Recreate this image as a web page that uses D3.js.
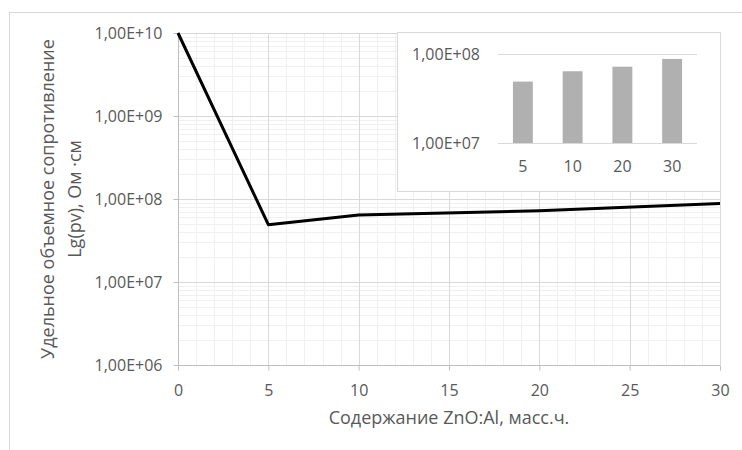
<!DOCTYPE html>
<html>
<head>
<meta charset="utf-8">
<script src="https://cdn.jsdelivr.net/npm/d3@7"></script>
<style>
  html, body { margin: 0; padding: 0; background: #fff; }
  text { font-family: "Open Sans", sans-serif; fill: #595959; }
</style>
</head>
<body>
<svg id="chart" width="742" height="450"></svg>
<script>
// ZnO:Al content (mass parts) and volume resistivity, Ohm·cm
const content = [0, 5, 10, 20, 30];
const resistivity = [1e10, 4.9e7, 6.4e7, 7.2e7, 8.8e7];

// Inset: filled samples only
const insetCategories = ["5", "10", "20", "30"];
const insetValues = [4.9e7, 6.4e7, 7.2e7, 8.8e7];

const xTicks = [0, 5, 10, 15, 20, 25, 30];
const yTicks = [1e6, 1e7, 1e8, 1e9, 1e10];
const insetYTicks = [1e7, 1e8];

const xTitle = "Содержание ZnO:Al, масс.ч.";
const yTitleLines = ["Удельное объемное сопротивление", "Lg(pv), Ом ·см"];

const fmtE = v => {
  const exp = Math.round(Math.log10(v));
  const mant = v / Math.pow(10, exp);
  return mant.toFixed(2).replace(".", ",") + "E+" + String(exp).padStart(2, "0");
};

const svg = d3.select("#chart");

// chart frame
svg.append("rect")
  .attr("x", 9.5).attr("y", 12.5)
  .attr("width", 760).attr("height", 460)
  .attr("fill", "none").attr("stroke", "#d9d9d9").attr("stroke-width", 1);

const plot = { left: 178, right: 720, top: 33, bottom: 365 };

const x = d3.scaleLinear().domain([0, 30]).range([plot.left, plot.right]);
const y = d3.scaleLog().domain([1e6, 1e10]).range([plot.bottom, plot.top]);

const g = svg.append("g");

// minor grid
const minorX = d3.range(0, 31).filter(v => v % 5 !== 0);
g.selectAll(".mx").data(minorX).enter().append("line")
  .attr("x1", d => Math.round(x(d)) + 0.5).attr("x2", d => Math.round(x(d)) + 0.5)
  .attr("y1", plot.top).attr("y2", plot.bottom)
  .attr("stroke", "#f0f0f0").attr("stroke-width", 1);

const minorY = [];
for (let e = 6; e < 10; e++) for (let m = 2; m <= 9; m++) minorY.push(m * Math.pow(10, e));
g.selectAll(".my").data(minorY).enter().append("line")
  .attr("x1", plot.left).attr("x2", plot.right)
  .attr("y1", d => Math.round(y(d)) + 0.5).attr("y2", d => Math.round(y(d)) + 0.5)
  .attr("stroke", "#f0f0f0").attr("stroke-width", 1);

// major grid
g.selectAll(".MX").data(xTicks.slice(1)).enter().append("line")
  .attr("x1", d => Math.round(x(d)) + 0.5).attr("x2", d => Math.round(x(d)) + 0.5)
  .attr("y1", plot.top).attr("y2", plot.bottom)
  .attr("stroke", "#d9d9d9").attr("stroke-width", 1);
g.selectAll(".MY").data(yTicks.slice(1)).enter().append("line")
  .attr("x1", plot.left).attr("x2", plot.right)
  .attr("y1", d => Math.round(y(d)) + 0.5).attr("y2", d => Math.round(y(d)) + 0.5)
  .attr("stroke", "#d9d9d9").attr("stroke-width", 1);

// axes
const xAxis = d3.axisBottom(x).tickValues(xTicks).tickSize(5).tickPadding(14).tickFormat(d3.format("d"));
const yAxis = d3.axisLeft(y).tickValues(yTicks).tickSize(5).tickPadding(11).tickFormat(fmtE);

const gx = svg.append("g").attr("transform", `translate(0,${plot.bottom + 0.5})`).call(xAxis);
const gy = svg.append("g").attr("transform", `translate(${plot.left + 0.5},0)`).call(yAxis);
[gx, gy].forEach(a => {
  a.select(".domain").attr("stroke", "#bfbfbf");
  a.selectAll(".tick line").attr("stroke", "#bfbfbf");
  a.selectAll(".tick text").style("font-size", "16px").attr("fill", "#595959");
});
gx.select(".domain").attr("d", `M${plot.left},0H${plot.right}`);
gy.select(".domain").attr("d", `M0,${plot.top}V${plot.bottom}`);

// data line
const line = d3.line().x((d, i) => x(content[i])).y(d => y(d));
svg.append("path").datum(resistivity)
  .attr("d", line)
  .attr("fill", "none").attr("stroke", "#000").attr("stroke-width", 3)
  .attr("stroke-linejoin", "round");

// axis titles
svg.append("text")
  .attr("x", (plot.left + plot.right) / 2).attr("y", 424)
  .attr("text-anchor", "middle").style("font-size", "18px")
  .text(xTitle);

const yt = svg.append("text")
  .attr("transform", `translate(48,${(plot.top + plot.bottom) / 2}) rotate(-90)`)
  .attr("text-anchor", "middle").style("font-size", "18px");
yTitleLines.forEach((s, i) => {
  yt.append("tspan").attr("x", 0).attr("dy", i === 0 ? "0.35em" : "1.5em").text(s);
});

// inset chart
const inset = { left: 397, right: 720, top: 32, bottom: 191 };
svg.append("rect")
  .attr("x", inset.left + 0.5).attr("y", inset.top + 0.5)
  .attr("width", inset.right - inset.left).attr("height", inset.bottom - inset.top)
  .attr("fill", "#fff").attr("stroke", "#d9d9d9").attr("stroke-width", 1);

const ix = d3.scaleBand().domain(insetCategories).range([498, 697]).paddingInner(0.6).paddingOuter(0.3);
const iy = d3.scaleLog().domain([1e7, 1e8]).range([143, 54]);

svg.selectAll(".ig").data(insetYTicks).enter().append("line")
  .attr("x1", 498).attr("x2", 697)
  .attr("y1", d => Math.round(iy(d)) + 0.5).attr("y2", d => Math.round(iy(d)) + 0.5)
  .attr("stroke", "#d9d9d9").attr("stroke-width", 1);

svg.selectAll(".bar").data(insetValues).enter().append("rect")
  .attr("x", (d, i) => ix(insetCategories[i]))
  .attr("width", ix.bandwidth())
  .attr("y", d => iy(d))
  .attr("height", d => iy(1e7) - iy(d))
  .attr("fill", "#b0b0b0");

const iyAxis = d3.axisLeft(iy).tickValues(insetYTicks).tickSize(0).tickPadding(18).tickFormat(fmtE);
const giy = svg.append("g").attr("transform", "translate(498,0)").call(iyAxis);
giy.select(".domain").remove();
giy.selectAll(".tick text").style("font-size", "16px").attr("fill", "#595959");

const ixAxis = d3.axisBottom(ix).tickSize(0).tickPadding(18);
const gix = svg.append("g").attr("transform", "translate(0,143)").call(ixAxis);
gix.select(".domain").remove();
gix.selectAll(".tick text").style("font-size", "16px").attr("fill", "#595959");
</script>
</body>
</html>
